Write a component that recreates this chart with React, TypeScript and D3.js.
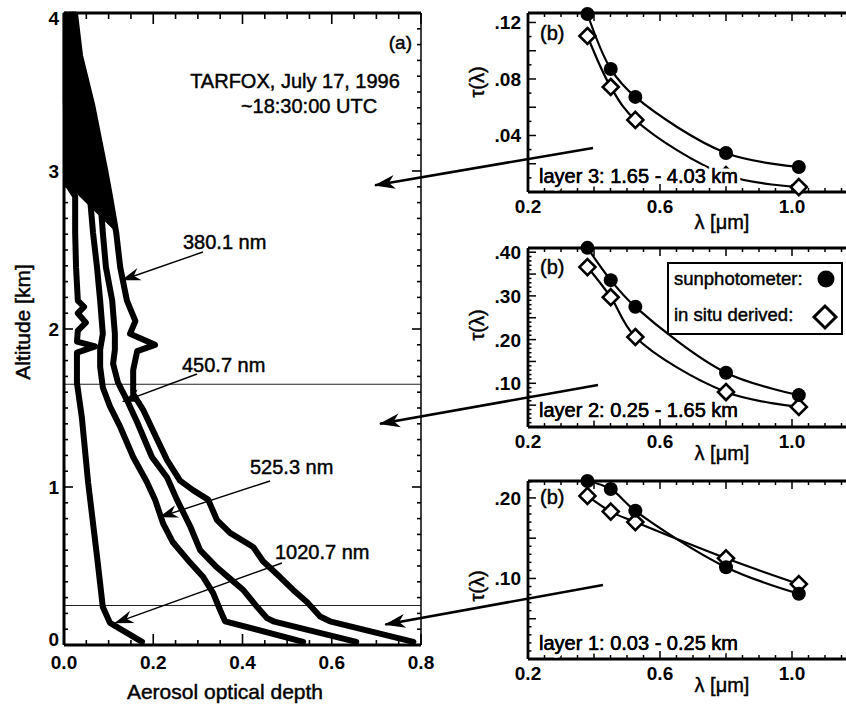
import React from 'react';
import * as d3 from 'd3';

const FONT = "'Liberation Sans', Arial, Helvetica, sans-serif";

// ---- Panel (a): aerosol optical depth profiles [AOD, altitude km]
const prof380: [number, number][] = [
  [0.783, 0.02], [0.596, 0.15], [0.574, 0.18], [0.545, 0.27], [0.513, 0.35], [0.484, 0.43],
  [0.446, 0.53], [0.424, 0.62], [0.372, 0.71], [0.343, 0.79], [0.323, 0.92], [0.289, 0.98],
  [0.26, 1.04], [0.231, 1.17], [0.209, 1.3], [0.177, 1.49], [0.155, 1.59], [0.155, 1.74],
  [0.164, 1.86], [0.204, 1.9], [0.148, 1.97], [0.16, 2.05], [0.141, 2.18], [0.126, 2.39],
  [0.117, 2.61], [0.103, 2.84], [0.092, 3.01], [0.063, 3.42], [0.036, 3.73], [0.025, 3.99],
];
const prof450: [number, number][] = [
  [0.655, 0.02], [0.469, 0.15], [0.455, 0.17], [0.433, 0.24], [0.401, 0.35], [0.372, 0.42],
  [0.343, 0.49], [0.305, 0.6], [0.283, 0.75], [0.253, 0.92], [0.231, 1.06], [0.197, 1.19],
  [0.164, 1.41], [0.141, 1.55], [0.121, 1.66], [0.11, 1.78], [0.114, 1.87], [0.114, 1.97],
  [0.108, 2.18], [0.094, 2.39], [0.087, 2.61], [0.081, 2.84], [0.07, 3.06], [0.047, 3.42],
  [0.029, 3.73], [0.02, 3.99],
];
const prof525: [number, number][] = [
  [0.536, 0.02], [0.361, 0.15], [0.35, 0.22], [0.334, 0.33], [0.312, 0.43], [0.283, 0.52],
  [0.244, 0.65], [0.222, 0.77], [0.204, 0.92], [0.186, 1.03], [0.155, 1.19], [0.126, 1.38],
  [0.103, 1.51], [0.087, 1.63], [0.081, 1.76], [0.081, 1.87], [0.087, 1.97], [0.081, 2.18],
  [0.074, 2.39], [0.065, 2.61], [0.058, 2.84], [0.052, 3.06], [0.034, 3.42], [0.02, 3.73],
  [0.013, 3.99],
];
const prof1020: [number, number][] = [
  [0.175, 0.02], [0.103, 0.14], [0.087, 0.24], [0.074, 0.56], [0.054, 1.03], [0.04, 1.44],
  [0.029, 1.66], [0.029, 1.85], [0.07, 1.89], [0.029, 1.92], [0.031, 1.99], [0.049, 2.04],
  [0.031, 2.1], [0.045, 2.14], [0.031, 2.18], [0.027, 2.39], [0.025, 2.61], [0.025, 2.84],
  [0.009, 2.91], [0.007, 3.07], [0.004, 3.45], [0.004, 3.99],
];
const profiles = [prof380, prof450, prof525, prof1020];
const layerBounds = [1.65, 0.25];
// altitudes above which the noisy profiles overlap into one dark band (left edge / right edge)
const overlapBaseLeft = 2.91;
const overlapBaseRight = 2.61;

// ---- Panels (b): spectral optical depth per layer
const wavelengths = [0.3801, 0.4507, 0.5253, 0.8, 1.0207];
const layer3Sun = [0.126, 0.0871, 0.0673, 0.0276, 0.0177];
const layer3InSitu = [0.1104, 0.0743, 0.051, 0.012, 0.0035];
const layer2Sun = [0.41, 0.336, 0.275, 0.124, 0.073];
const layer2InSitu = [0.366, 0.297, 0.206, 0.08, 0.046];
const layer1Sun = [0.221, 0.211, 0.184, 0.114, 0.081];
const layer1InSitu = [0.2025, 0.183, 0.17, 0.125, 0.093];

const layerNames = ['layer 3: 1.65 - 4.03 km', 'layer 2: 0.25 - 1.65 km', 'layer 1: 0.03 - 0.25 km'];
const wlTickLabels = [0.2, 0.6, 1.0];

const T = { stroke: '#000', strokeWidth: 0.45 } as const;

function Arrow({ x1, y1, x2, y2, big }: { x1: number; y1: number; x2: number; y2: number; big?: boolean }) {
  return (
    <line x1={x1} y1={y1} x2={x2} y2={y2} stroke="#000" strokeWidth={big ? 2.6 : 1.4}
      markerEnd={big ? 'url(#bigHead)' : 'url(#smallHead)'} />
  );
}

export default function App() {
  // Panel (a) scales
  const xA = d3.scaleLinear().domain([0, 0.8]).range([64, 421]);
  const yA = d3.scaleLinear().domain([0, 4]).range([645, 13]);
  const profLine = d3.line<[number, number]>().x(d => xA(d[0])).y(d => yA(d[1])).curve(d3.curveLinear);

  const bandPoly = [
    ...prof1020.filter(d => d[1] >= overlapBaseLeft),
    ...prof380.filter(d => d[1] >= overlapBaseRight).slice().reverse(),
  ];
  const bandPath = profLine.curve(d3.curveLinearClosed)(bandPoly) || '';
  profLine.curve(d3.curveLinear);

  const xB = d3.scaleLinear().domain([0.2, 1.2]).range([528, 858]);
  const panels = [
    { top: 13, bottom: 192, yMax: 0.1267, labels: [0.04, 0.08, 0.12], major: 0.02, minor: 0.01,
      sun: layer3Sun, ins: layer3InSitu, tauY: 82, lamY: 229, bY: 40, layY: 183 },
    { top: 248, bottom: 427, yMax: 0.4096, labels: [0.1, 0.2, 0.3, 0.4], major: 0.05, minor: 0.01,
      sun: layer2Sun, ins: layer2InSitu, tauY: 325, lamY: 460, bY: 274, layY: 417 },
    { top: 481, bottom: 659, yMax: 0.221, labels: [0.1, 0.2], major: 0.05, minor: 0.01,
      sun: layer1Sun, ins: layer1InSitu, tauY: 586, lamY: 692, bY: 504, layY: 650 },
  ];
  const fmtTau = (v: number) => d3.format('.2f')(v).replace(/^0/, '');
  const fmt1 = d3.format('.1f');

  const diamond = (cx: number, cy: number, r: number) =>
    `M${cx},${cy - r}L${cx + r},${cy}L${cx},${cy + r}L${cx - r},${cy}Z`;

  return (
    <svg width={846} height={706} style={{ display: 'block', position: 'absolute', left: 0, top: 0 }}
      fontFamily={FONT}>
      <defs>
        <marker id="bigHead" viewBox="-22 -10 24 20" refX={0} refY={0} markerWidth={24} markerHeight={20}
          markerUnits="userSpaceOnUse" orient="auto">
          <path d="M1,0 L-20,-7 L-14,0 L-20,7 Z" fill="#000" />
        </marker>
        <marker id="smallHead" viewBox="-22 -10 24 20" refX={0} refY={0} markerWidth={24} markerHeight={20}
          markerUnits="userSpaceOnUse" orient="auto">
          <path d="M1,0 L-18,-6.5 L-12,0 L-18,6.5 Z" fill="#000" />
        </marker>
      </defs>
      <rect width={846} height={706} fill="#fff" />

      {/* ===== Panel (a) ===== */}
      <g>
        {layerBounds.map(b => (
          <line key={b} x1={xA(0)} x2={xA(0.8)} y1={yA(b)} y2={yA(b)} stroke="#222" strokeWidth={1.1} />
        ))}
        <path d={bandPath} fill="#000" />
        {profiles.map((p, i) => (
          <path key={i} d={profLine(p) || ''} fill="none" stroke="#000" strokeWidth={6}
            strokeLinejoin="round" strokeLinecap="round" />
        ))}
        {d3.range(0, 0.8001, 0.05).map(v => {
          const maj = Math.abs(v / 0.2 - Math.round(v / 0.2)) < 1e-6;
          return (
            <g key={'xa' + v}>
              <line x1={xA(v)} x2={xA(v)} y1={yA(0)} y2={yA(0) - (maj ? 11 : 5)} stroke="#000" strokeWidth={1.6} />
              <line x1={xA(v)} x2={xA(v)} y1={yA(4)} y2={yA(4) + (maj ? 11 : 6)} stroke="#000" strokeWidth={1.6} />
            </g>
          );
        })}
        {d3.range(0, 4.0001, 0.1).map(v => {
          const maj = Math.abs(v - Math.round(v)) < 1e-6;
          return (
            <g key={'ya' + v}>
              <line x1={xA(0)} x2={xA(0) + (maj ? 9 : 4)} y1={yA(v)} y2={yA(v)} stroke="#000" strokeWidth={1.6} />
              <line x1={xA(0.8)} x2={xA(0.8) - (maj ? 9 : 4)} y1={yA(v)} y2={yA(v)} stroke="#000" strokeWidth={1.6} />
            </g>
          );
        })}
        <line x1={xA(0)} x2={xA(0)} y1={yA(0)} y2={yA(4)} stroke="#000" strokeWidth={3} />
        <line x1={xA(0)} x2={xA(0.8)} y1={yA(0)} y2={yA(0)} stroke="#000" strokeWidth={3} />
        <line x1={xA(0)} x2={xA(0.8)} y1={yA(4)} y2={yA(4)} stroke="#000" strokeWidth={3} />
        <line x1={xA(0.8)} x2={xA(0.8)} y1={yA(0)} y2={yA(4)} stroke="#000" strokeWidth={1.5} />
        {d3.range(0, 0.8001, 0.2).map(v => (
          <text key={'xl' + v} x={xA(v)} y={669} textAnchor="middle" fontSize={19} fontWeight="bold">{fmt1(v)}</text>
        ))}
        {d3.range(0, 5).map(v => (
          <text key={'yl' + v} x={59} y={yA(v) + 7 + (v === 4 ? 5 : 0) - (v === 0 ? 6 : 0)} textAnchor="end"
            fontSize={19} fontWeight="bold">{v}</text>
        ))}
        <text x={225} y={699} textAnchor="middle" fontSize={21} {...T}>Aerosol optical depth</text>
        <text transform={`translate(30,322) rotate(-90)`} textAnchor="middle" fontSize={21} {...T}>Altitude [km]</text>
        <text x={412} y={49} textAnchor="end" fontSize={19} {...T}>(a)</text>
        <text x={295} y={88} textAnchor="middle" fontSize={20} {...T}>TARFOX, July 17, 1996</text>
        <text x={309} y={113} textAnchor="middle" fontSize={20} {...T}>~18:30:00 UTC</text>

        <text x={183} y={249} fontSize={20} {...T}>380.1 nm</text>
        <Arrow x1={203} y1={252} x2={xA(0.131)} y2={yA(2.31)} />
        <text x={182} y={372} fontSize={20} {...T}>450.7 nm</text>
        <Arrow x1={197} y1={374} x2={xA(0.132)} y2={yA(1.54)} />
        <text x={250} y={474} fontSize={20} {...T}>525.3 nm</text>
        <Arrow x1={270} y1={481} x2={xA(0.215)} y2={yA(0.81)} />
        <text x={275} y={559} fontSize={20} {...T}>1020.7 nm</text>
        <Arrow x1={282} y1={563} x2={xA(0.115)} y2={yA(0.14)} />
      </g>

      {/* ===== Panels (b) ===== */}
      {panels.map((p, i) => {
        const y = d3.scaleLinear().domain([0, p.yMax]).range([p.bottom, p.top]);
        const ln = d3.line<number>().x((_, j) => xB(wavelengths[j])).y(d => y(d)).curve(d3.curveCatmullRom.alpha(0.5));
        return (
          <g key={'p' + i}>
            {d3.range(0.2, 1.2001, 0.05).map(v => {
              const maj = Math.abs(v / 0.2 - Math.round(v / 0.2)) < 1e-6;
              return (
                <g key={'xt' + v}>
                  <line x1={xB(v)} x2={xB(v)} y1={p.bottom} y2={p.bottom - (maj ? 8 : 4)} stroke="#000" strokeWidth={1.5} />
                  <line x1={xB(v)} x2={xB(v)} y1={p.top} y2={p.top + (maj ? 8 : 4)} stroke="#000" strokeWidth={1.5} />
                </g>
              );
            })}
            {d3.range(0, p.yMax, p.minor).map(v => {
              const maj = Math.abs(v / p.major - Math.round(v / p.major)) < 1e-6;
              return (
                <line key={'yt' + v} x1={xB(0.2)} x2={xB(0.2) + (maj ? 8 : 3.5)} y1={y(v)} y2={y(v)}
                  stroke="#000" strokeWidth={1.5} />
              );
            })}
            <line x1={xB(0.2)} x2={xB(0.2)} y1={p.bottom} y2={p.top} stroke="#000" strokeWidth={2.8} />
            <line x1={xB(0.2)} x2={xB(1.2)} y1={p.bottom} y2={p.bottom} stroke="#000" strokeWidth={2.8} />
            <line x1={xB(0.2)} x2={xB(1.2)} y1={p.top} y2={p.top} stroke="#000" strokeWidth={2.8} />

            <path d={ln(p.sun) || ''} fill="none" stroke="#000" strokeWidth={2.2} />
            <path d={ln(p.ins) || ''} fill="none" stroke="#000" strokeWidth={2.2} />
            {p.ins.map((v, j) => (
              <path key={'d' + j} d={diamond(xB(wavelengths[j]), y(v), 8)} fill="#fff" stroke="#000" strokeWidth={2.6} />
            ))}
            {p.sun.map((v, j) => (
              <circle key={'c' + j} cx={xB(wavelengths[j])} cy={y(v)} r={7} fill="#000" />
            ))}

            <text x={xB(0.2) + 11} y={p.layY} fontSize={20} stroke="#fff" strokeWidth={7}
              strokeLinejoin="round" style={{ paintOrder: 'stroke' }}>{layerNames[i]}</text>
            <text x={xB(0.2) + 11} y={p.layY} fontSize={20} {...T}>{layerNames[i]}</text>
            <text x={xB(0.2) + 12} y={p.bY} fontSize={20} {...T}>(b)</text>

            {p.labels.map(v => (
              <text key={'yl' + v} x={xB(0.2) - 7} y={y(v) + 7} textAnchor="end" fontSize={19} fontWeight="bold">{fmtTau(v)}</text>
            ))}
            {wlTickLabels.map(v => (
              <text key={'xl' + v} x={xB(v)} y={p.bottom + 21} textAnchor="middle" fontSize={19} fontWeight="bold">{fmt1(v)}</text>
            ))}
            <text x={722} y={p.lamY} textAnchor="middle" fontSize={20} {...T}>λ [μm]</text>
            <text transform={`translate(484,${p.tauY}) rotate(-90)`} textAnchor="middle" fontSize={20} {...T}>τ(λ)</text>
          </g>
        );
      })}

      {/* legend */}
      <rect x={668} y={263} width={174} height={71} fill="#fff" stroke="#000" strokeWidth={2} />
      <text x={674} y={285} fontSize={18.5} {...T}>sunphotometer:</text>
      <circle cx={826} cy={279} r={8.5} fill="#000" />
      <text x={674} y={321} fontSize={18.5} {...T}>in situ derived:</text>
      <path d={diamond(825, 317, 11)} fill="#fff" stroke="#000" strokeWidth={3} />

      {/* connecting arrows from layer panels to the profile plot */}
      <Arrow big x1={593} y1={148} x2={xA(0.697)} y2={yA(2.91)} />
      <Arrow big x1={598} y1={385} x2={xA(0.708)} y2={yA(1.4)} />
      <Arrow big x1={603} y1={585} x2={xA(0.72)} y2={yA(0.13)} />
    </svg>
  );
}
